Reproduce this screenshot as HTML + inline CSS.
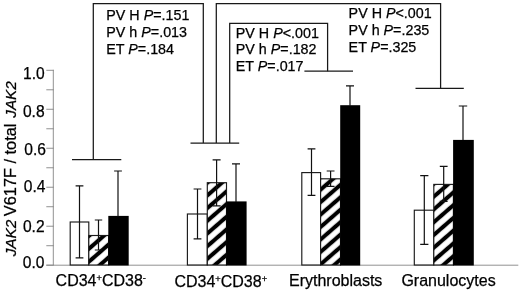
<!DOCTYPE html>
<html><head><meta charset="utf-8"><title>JAK2 V617F</title>
<style>
html,body{margin:0;padding:0;background:#fff;}
body{width:520px;height:291px;overflow:hidden;}
svg{display:block;font-family:"Liberation Sans",Arial,sans-serif;fill:#000;}
text{stroke:#000;stroke-width:0.25px}
.ax{stroke:#858585;stroke-width:0.9;fill:none}
.ln{stroke:#181818;stroke-width:1.25;fill:none}
.eb{stroke:#111;stroke-width:1.2;fill:none}
.t15{font-size:16px}
.t14{font-size:14.3px}
.sup{font-size:9.3px}
i,.it{font-style:italic}
</style></head><body>
<svg width="520" height="291" viewBox="0 0 520 291">
<defs>
<pattern id="h0" width="9.736" height="9.736" patternUnits="userSpaceOnUse" patternTransform="translate(89,248.7) rotate(-41)"><rect width="9.736" height="9.736" fill="#fff"/><rect width="9.736" height="2.05" fill="#000"/><rect y="7.686" width="9.736" height="2.0999999999999996" fill="#000"/></pattern>
<pattern id="h1" width="9.570" height="9.570" patternUnits="userSpaceOnUse" patternTransform="translate(207,221.1) rotate(-41)"><rect width="9.570" height="9.570" fill="#fff"/><rect width="9.570" height="2.05" fill="#000"/><rect y="7.520" width="9.570" height="2.0999999999999996" fill="#000"/></pattern>
<pattern id="h2" width="9.396" height="9.396" patternUnits="userSpaceOnUse" patternTransform="translate(320.6,227.0) rotate(-41)"><rect width="9.396" height="9.396" fill="#fff"/><rect width="9.396" height="2.05" fill="#000"/><rect y="7.346" width="9.396" height="2.0999999999999996" fill="#000"/></pattern>
<pattern id="h3" width="9.630" height="9.630" patternUnits="userSpaceOnUse" patternTransform="translate(434.2,234.6) rotate(-41)"><rect width="9.630" height="9.630" fill="#fff"/><rect width="9.630" height="2.05" fill="#000"/><rect y="7.580" width="9.630" height="2.0999999999999996" fill="#000"/></pattern>

</defs>
<rect width="520" height="291" fill="#fff"/>

<g class="ax">
<path d="M53.3 69.8V265.2"/>
<path d="M46.3 265.20H53.7"/>
<path d="M46.3 245.71H53.7"/>
<path d="M46.3 226.22H53.7"/>
<path d="M46.3 206.73H53.7"/>
<path d="M46.3 187.24H53.7"/>
<path d="M46.3 167.75H53.7"/>
<path d="M46.3 148.26H53.7"/>
<path d="M46.3 128.77H53.7"/>
<path d="M46.3 109.28H53.7"/>
<path d="M46.3 89.79H53.7"/>
<path d="M46.3 70.30H53.7"/>
<path d="M46.3 265.2H518.3"/>
</g>
<g style="font-size:15.6px" text-anchor="end">
<text x="44.7" y="79.0">1.0</text>
<text x="44.6" y="116.6">0.8</text>
<text x="45.9" y="155.0">0.6</text>
<text x="45.5" y="191.5">0.4</text>
<text x="44.6" y="231.8">0.2</text>
<text x="44.4" y="267.6">0.0</text>
</g>
<text class="it" style="font-size:15.35px" transform="translate(16.1,256.3) rotate(-90)">JAK2</text>
<text style="font-size:16.35px" transform="translate(16.1,216.2) rotate(-90)">V617F / total</text>
<text class="it" style="font-size:15.3px" text-anchor="end" transform="translate(16.1,81.2) rotate(-90)">JAK2</text>
<rect x="70.2" y="222.0" width="18.60" height="43.00" fill="#fff" stroke="#1a1a1a" stroke-width="1.15"/>
<rect x="88.8" y="235.5" width="19.80" height="29.50" fill="url(#h0)" stroke="#1a1a1a" stroke-width="1.15"/>
<rect x="108.3" y="215.9" width="20.40" height="49.60" fill="#000"/>
<rect x="187.4" y="214.0" width="19.90" height="51.00" fill="#fff" stroke="#1a1a1a" stroke-width="1.15"/>
<rect x="207.3" y="182.7" width="19.20" height="82.30" fill="url(#h1)" stroke="#1a1a1a" stroke-width="1.15"/>
<rect x="226.2" y="201.4" width="20.40" height="64.10" fill="#000"/>
<rect x="301.8" y="172.6" width="18.80" height="92.40" fill="#fff" stroke="#1a1a1a" stroke-width="1.15"/>
<rect x="320.6" y="178.8" width="19.90" height="86.20" fill="url(#h2)" stroke="#1a1a1a" stroke-width="1.15"/>
<rect x="340.2" y="105.2" width="20.00" height="160.30" fill="#000"/>
<rect x="414.3" y="210.2" width="19.50" height="54.80" fill="#fff" stroke="#1a1a1a" stroke-width="1.15"/>
<rect x="433.8" y="184.4" width="19.60" height="80.60" fill="url(#h3)" stroke="#1a1a1a" stroke-width="1.15"/>
<rect x="453.09999999999997" y="139.9" width="20.70" height="125.60" fill="#000"/>
<g class="eb">
<path d="M79.5 185.9V257.8M75.6 185.9H83.4M75.6 257.8H83.4"/>
<path d="M98.5 220.0V250.0M94.8 220.0H102.2M94.8 250.0H102.2"/>
<path d="M118.0 171.0V216.5M114.1 171.0H121.9"/>
<path d="M197.5 189.0V238.8M193.6 189.0H201.4M193.6 238.8H201.4"/>
<path d="M216.6 159.9V205.9M212.6 159.9H220.6M212.6 205.9H220.6"/>
<path d="M236.0 163.9V202.0M232.0 163.9H240.0"/>
<path d="M311.5 148.8V195.3M307.6 148.8H315.4M307.6 195.3H315.4"/>
<path d="M330.6 171.0V186.3M326.70000000000005 171.0H334.5M326.70000000000005 186.3H334.5"/>
<path d="M350.0 85.9V106.0M346.0 85.9H354.0"/>
<path d="M424.3 175.7V244.3M420.2 175.7H428.40000000000003M420.2 244.3H428.40000000000003"/>
<path d="M443.7 166.3V201.3M439.8 166.3H447.59999999999997M439.8 201.3H447.59999999999997"/>
<path d="M463.0 106.0V140.0M458.8 106.0H467.2"/>
</g>
<g class="ln">
<path d="M93.3 159.5V3.6H203.3V143"/>
<path d="M72 159.5H121.3"/>
<path d="M190.5 143H239.2"/>
<path d="M216.3 143V3.6H440.6V88.3"/>
<path d="M415.5 88.3H463.8"/>
<path d="M229.7 143V23.4H327.6V71.2"/>
<path d="M304.4 71.2H353"/>
</g>
<g class="t14">
<text x="106.3" y="19.9">PV H <tspan class="it">P</tspan>=.151</text>
<text x="106.3" y="37.0">PV h <tspan class="it">P</tspan>=.013</text>
<text x="106.3" y="54.2">ET <tspan class="it">P</tspan>=.184</text>
</g>
<g class="t14">
<text x="235.8" y="37.5">PV H <tspan class="it">P</tspan>&lt;.001</text>
<text x="235.8" y="54.4">PV h <tspan class="it">P</tspan>=.182</text>
<text x="235.8" y="71.2">ET <tspan class="it">P</tspan>=.017</text>
</g>
<g class="t14">
<text x="348.6" y="18.0">PV H <tspan class="it">P</tspan>&lt;.001</text>
<text x="348.6" y="35.1">PV h <tspan class="it">P</tspan>=.235</text>
<text x="348.6" y="52.1">ET <tspan class="it">P</tspan>=.325</text>
</g>
<g style="font-size:16px">
<text transform="translate(55.6,286.3) scale(1.0000,1)">CD34<tspan class="sup" dy="-5.5">+</tspan><tspan dy="5.5">CD38</tspan><tspan class="sup" dy="-5.5">-</tspan></text>
<text transform="translate(174.4,287.4) scale(1.0000,1)">CD34<tspan class="sup" dy="-5.5">+</tspan><tspan dy="5.5">CD38</tspan><tspan class="sup" dy="-5.5">+</tspan></text>
<text transform="translate(289,286.3) scale(1.0000,1)">Erythroblasts</text>
<text transform="translate(401.4,286.2) scale(1.0000,1)">Granulocytes</text>
</g>
</svg></body></html>
